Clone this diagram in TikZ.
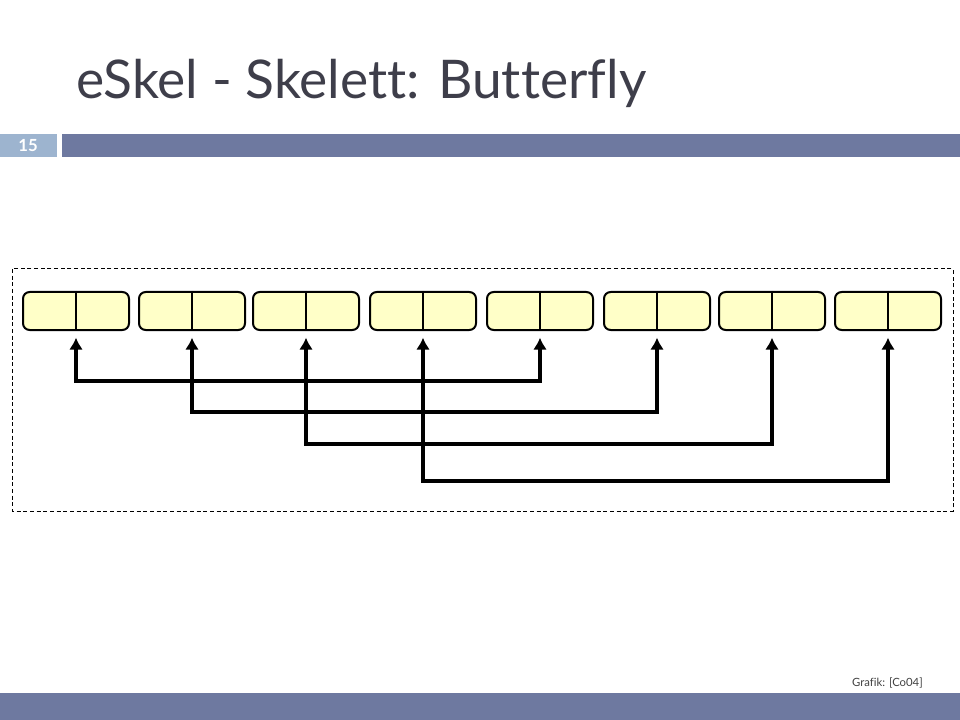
\documentclass[tikz,border=0pt]{standalone}
\usepackage{fontspec}
\setmainfont{Lato}[Ligatures=NoCommon]
\usetikzlibrary{arrows.meta,positioning}
\definecolor{BarBlue}{HTML}{6E79A0}
\definecolor{NumBlue}{HTML}{9DB4CF}
\definecolor{TitleGray}{HTML}{3E3E4A}
\definecolor{CellYellow}{HTML}{FFFFC8}

\begin{document}
\begin{tikzpicture}[
x=0.75pt,y=-0.75pt,
Cells/.style={draw=black,fill=CellYellow,line width=1.5pt,rounded corners=5pt,minimum width=79.5pt,minimum height=28.5pt,inner sep=0pt},
Links/.style={line width=3pt,{Latex[length=9pt,width=10.5pt]}-{Latex[length=9pt,width=10.5pt]},shorten <=5pt,shorten >=5pt},
Frame/.style={draw=black,line width=0.75pt,dash pattern=on 3pt off 2pt},
every node/.style={inner sep=0pt}
]
%\draw[gray,step=40,dotted] (0,0) grid (960,720);
\useasboundingbox (0,0) rectangle (960,720);

\fill[NumBlue] (0,134) rectangle (57,157);
\fill[BarBlue] (62,134) rectangle (960,157);
\fill[BarBlue] (0,693) rectangle (960,720);

\node[anchor=base west,text=TitleGray,font=\fontsize{40}{48}\selectfont] (title) at (76,99) {eSkel - Skelett: Butterfly};
\node[text=white,font=\bfseries\fontsize{12.5}{14}\selectfont] (page) at (28,146) {15};
\node[anchor=base east,text=black!75,font=\fontsize{8.5}{10}\selectfont] (source) at (923,686) {Grafik: [Co04]};

\draw[Frame] (12,269) rectangle (953,511);

\foreach \n/\x in {1/76,2/192,3/306,4/423,5/540,6/657,7/772,8/888}{
  \node[Cells] (box\n) at (\x,311) {};
  \draw[line width=1.5pt] (box\n.north) -- (box\n.south);
}

\draw[Links] (box1.south) -- ++(0,50) -| (box5.south);
\draw[Links] (box2.south) -- ++(0,81) -| (box6.south);
\draw[Links] (box3.south) -- ++(0,113) -| (box7.south);
\draw[Links] (box4.south) -- ++(0,150) -| (box8.south);

\end{tikzpicture}
\end{document}
